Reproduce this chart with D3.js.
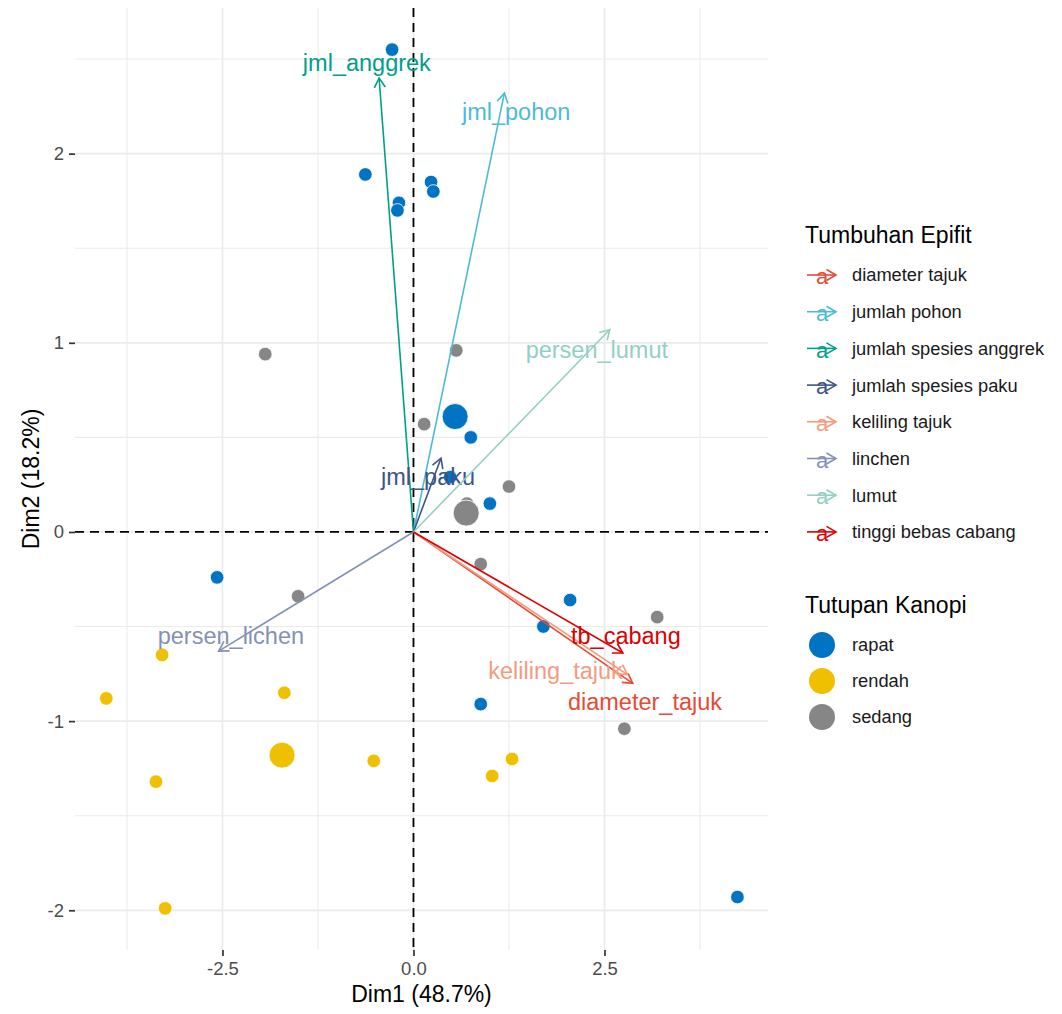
<!DOCTYPE html>
<html lang="en"><head>
<meta charset="utf-8">
<title>PCA biplot - Tumbuhan Epifit</title>
<script src="https://cdn.jsdelivr.net/npm/d3@7"></script>
<style>
  body { margin: 0; background: #fff; }
  svg text { font-family: "Liberation Sans", Arial, sans-serif; }
</style>
</head>
<body>
<svg id="chart" width="1062" height="1014"></svg>
<script>
// individuals (scores on Dim1 / Dim2), group = Tutupan Kanopi
const groups = ["rapat", "rendah", "sedang"]
const groupColors = ["#0073C2", "#EFC000", "#868686"]

const indDim1 = [-0.28, -0.63, -0.19, -0.21, 0.23, 0.26, 0.75, 0.48, 1.00, 2.05, 1.70, 0.88, -2.57, 4.24,
                 -3.29, -4.02, -1.69, -0.52, -3.37, -3.25, 1.03, 1.29,
                 -1.94, 0.56, 0.14, 1.25, 0.70, 0.88, -1.51, 3.19, 2.76]
const indDim2 = [2.55, 1.89, 1.74, 1.70, 1.85, 1.80, 0.50, 0.29, 0.15, -0.36, -0.50, -0.91, -0.24, -1.93,
                 -0.65, -0.88, -0.85, -1.21, -1.32, -1.99, -1.29, -1.20,
                 0.94, 0.96, 0.57, 0.24, 0.15, -0.17, -0.34, -0.45, -1.04]
const indGroup = ["rapat","rapat","rapat","rapat","rapat","rapat","rapat","rapat","rapat","rapat","rapat","rapat","rapat","rapat",
                  "rendah","rendah","rendah","rendah","rendah","rendah","rendah","rendah",
                  "sedang","sedang","sedang","sedang","sedang","sedang","sedang","sedang","sedang"]

// group means (barycenters)
const meanDim1 = [0.545, -1.72, 0.69]
const meanDim2 = [0.61, -1.18, 0.10]

// variables (arrows)
const varNames = ["diameter_tajuk", "jml_pohon", "jml_anggrek", "jml_paku", "keliling_tajuk", "persen_lichen", "persen_lumut", "tb_cabang"]
const varLegend = ["diameter tajuk", "jumlah pohon", "jumlah spesies anggrek", "jumlah spesies paku", "keliling tajuk", "linchen", "lumut", "tinggi bebas cabang"]
const varColors = ["#E64B35", "#4DBBD5", "#00A087", "#3C5488", "#F39B7F", "#8491B4", "#91D1C2", "#DC0000"]
const varDim1 = [2.87, 1.19, -0.45, 0.36, 2.80, -2.55, 2.57, 2.74]
const varDim2 = [-0.80, 2.32, 2.40, 0.39, -0.754, -0.63, 1.07, -0.64]
const labDim1 = [3.03, 1.344, -0.61, 0.19, 1.86, -2.39, 2.40, 2.78]
const labDim2 = [-0.90, 2.22, 2.48, 0.292, -0.734, -0.55, 0.964, -0.549]

const xTicks = [-2.5, 0, 2.5]
const xMinor = [-3.75, -1.25, 1.25, 3.75]
const yTicks = [-2, -1, 0, 1, 2]
const yMinor = [-1.5, -0.5, 0.5, 1.5, 2.5]

const panel = {left: 75, right: 768, top: 8, bottom: 950}
const x = d3.scaleLinear().domain([-4.43, 4.64]).range([panel.left, panel.right])
const y = d3.scaleLinear().domain([-2.21, 2.77]).range([panel.bottom, panel.top])
const grpColor = d3.scaleOrdinal().domain(groups).range(groupColors)

const svg = d3.select("#chart")

// grid
let grid = svg.append("g")
grid.selectAll(".vminor").data(xMinor).enter().append("line")
  .attr("x1", d => x(d)).attr("x2", d => x(d))
  .attr("y1", panel.top).attr("y2", panel.bottom)
  .attr("stroke", "#EBEBEB").attr("stroke-width", 1.1)
grid.selectAll(".hminor").data(yMinor).enter().append("line")
  .attr("y1", d => y(d)).attr("y2", d => y(d))
  .attr("x1", panel.left).attr("x2", panel.right)
  .attr("stroke", "#EBEBEB").attr("stroke-width", 1.1)
grid.selectAll(".vmajor").data(xTicks).enter().append("line")
  .attr("x1", d => x(d)).attr("x2", d => x(d))
  .attr("y1", panel.top).attr("y2", panel.bottom)
  .attr("stroke", "#EBEBEB").attr("stroke-width", 1.7)
grid.selectAll(".hmajor").data(yTicks).enter().append("line")
  .attr("y1", d => y(d)).attr("y2", d => y(d))
  .attr("x1", panel.left).attr("x2", panel.right)
  .attr("stroke", "#EBEBEB").attr("stroke-width", 1.7)

// axes (plain hyphen for minus, like R)
const fmtX = d => d3.format(".1f")(d).replace("\u2212", "-")
const fmtY = d => d3.format("d")(d).replace("\u2212", "-")
let xAxis = svg.append("g")
  .attr("transform", `translate(0,${panel.bottom})`)
  .call(d3.axisBottom(x).tickValues(xTicks).tickFormat(fmtX).tickSize(6).tickPadding(6))
let yAxis = svg.append("g")
  .attr("transform", `translate(${panel.left},0)`)
  .call(d3.axisLeft(y).tickValues(yTicks).tickFormat(fmtY).tickSize(6).tickPadding(5))
for (let ax of [xAxis, yAxis]) {
  ax.select(".domain").remove()
  ax.selectAll(".tick line").attr("stroke", "#333333").attr("stroke-width", 1.7)
  ax.selectAll(".tick text").attr("fill", "#4D4D4D").style("font-size", "18.5px")
    .style("font-family", "'Liberation Sans', Arial, sans-serif")
}

svg.append("text").attr("x", (panel.left + panel.right) / 2).attr("y", 1002)
  .attr("text-anchor", "middle").style("font-size", "23px").text("Dim1 (48.7%)")
svg.append("text").attr("transform", `translate(39,${(panel.top + panel.bottom) / 2}) rotate(-90)`)
  .attr("text-anchor", "middle").style("font-size", "23px").text("Dim2 (18.2%)")

// reference lines
svg.append("line").attr("x1", x(0)).attr("x2", x(0)).attr("y1", panel.top).attr("y2", panel.bottom)
  .attr("stroke", "black").attr("stroke-width", 1.8).attr("stroke-dasharray", "9,6")
svg.append("line").attr("y1", y(0)).attr("y2", y(0)).attr("x1", panel.left).attr("x2", panel.right)
  .attr("stroke", "black").attr("stroke-width", 1.8).attr("stroke-dasharray", "9,6")

// individuals
const ind = indDim1.map((d, i) => ({d1: d, d2: indDim2[i], g: indGroup[i], r: 6.8}))
const means = meanDim1.map((d, i) => ({d1: d, d2: meanDim2[i], g: groups[i], r: 13}))
svg.append("g").selectAll("circle")
  .data(ind.concat(means)).enter()
  .append("circle")
  .attr("cx", d => x(d.d1))
  .attr("cy", d => y(d.d2))
  .attr("r", d => d.r)
  .attr("fill", d => grpColor(d.g))
  .attr("stroke", "white").attr("stroke-width", 0.8)

// arrows
function arrowHead(x1, y1, x2, y2, len) {
  let a = Math.atan2(y2 - y1, x2 - x1)
  let p1 = [x2 - len * Math.cos(a - Math.PI / 6), y2 - len * Math.sin(a - Math.PI / 6)]
  let p2 = [x2 - len * Math.cos(a + Math.PI / 6), y2 - len * Math.sin(a + Math.PI / 6)]
  return `M${p1[0]},${p1[1]}L${x2},${y2}L${p2[0]},${p2[1]}`
}

const vars = varNames.map((n, i) => ({name: n, d1: varDim1[i], d2: varDim2[i], lx: labDim1[i], ly: labDim2[i], col: varColors[i]}))
let arrows = svg.append("g").selectAll("g").data(vars).enter().append("g")
arrows.append("line")
  .attr("x1", x(0)).attr("y1", y(0))
  .attr("x2", d => x(d.d1)).attr("y2", d => y(d.d2))
  .attr("stroke", d => d.col).attr("stroke-width", 1.6)
arrows.append("path")
  .attr("d", d => arrowHead(x(0), y(0), x(d.d1), y(d.d2), 11))
  .attr("fill", "none").attr("stroke", d => d.col).attr("stroke-width", 1.6)
arrows.append("text")
  .attr("x", d => x(d.lx)).attr("y", d => y(d.ly)).attr("dy", "0.35em")
  .attr("text-anchor", "middle").attr("fill", d => d.col)
  .style("font-size", "23.5px").text(d => d.name)

// legend: Tumbuhan Epifit
let leg1 = svg.append("g")
leg1.append("text").attr("x", 805).attr("y", 243).style("font-size", "23px").text("Tumbuhan Epifit")
let items = leg1.selectAll(".item").data(varLegend).enter().append("g")
  .attr("transform", (d, i) => `translate(0,${275 + i * 36.7})`)
items.append("text").attr("x", 822).attr("y", 0).attr("dy", "0.42em").attr("text-anchor", "middle")
  .attr("fill", (d, i) => varColors[i]).style("font-size", "22px").text("a")
items.append("line").attr("x1", 807).attr("x2", 836).attr("y1", 0).attr("y2", 0)
  .attr("stroke", (d, i) => varColors[i]).attr("stroke-width", 1.6)
items.append("path").attr("d", arrowHead(807, 0, 836, 0, 11))
  .attr("fill", "none").attr("stroke", (d, i) => varColors[i]).attr("stroke-width", 1.6)
items.append("text").attr("x", 852).attr("y", 0).attr("dy", "0.35em")
  .style("font-size", "18.3px").attr("fill", "#1a1a1a").text(d => d)

// legend: Tutupan Kanopi
let leg2 = svg.append("g")
leg2.append("text").attr("x", 805).attr("y", 613).style("font-size", "23px").text("Tutupan Kanopi")
let gitems = leg2.selectAll(".gitem").data(groups).enter().append("g")
  .attr("transform", (d, i) => `translate(0,${645 + i * 36})`)
gitems.append("circle").attr("cx", 822).attr("cy", 0).attr("r", 13).attr("fill", d => grpColor(d))
gitems.append("text").attr("x", 852).attr("y", 0).attr("dy", "0.35em")
  .style("font-size", "18.3px").attr("fill", "#1a1a1a").text(d => d)
</script>
</body>
</html>
